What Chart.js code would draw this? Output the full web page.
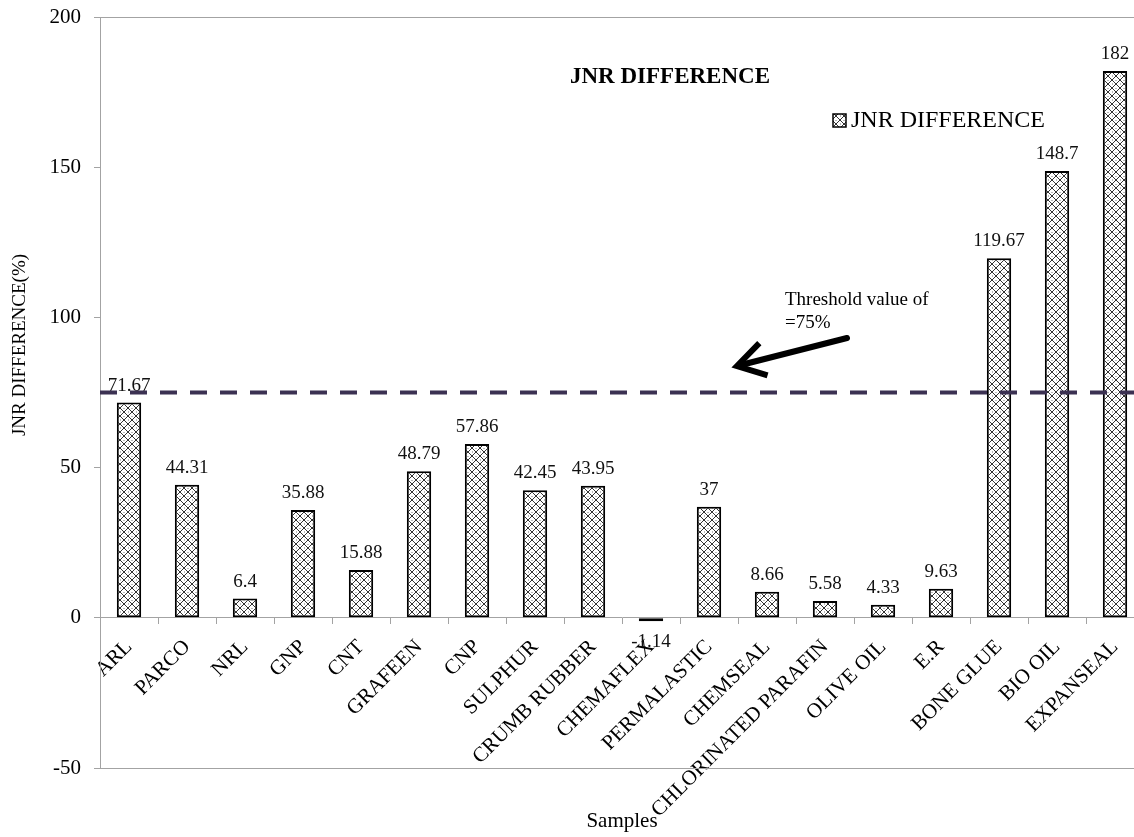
<!DOCTYPE html>
<html>
<head>
<meta charset="utf-8">
<script src="https://cdn.jsdelivr.net/npm/chart.js@4/dist/chart.umd.min.js"></script>
<style>
  html, body { margin: 0; padding: 0; background: #fff; overflow: hidden; }
  #wrap { position: relative; width: 1150px; height: 837px; }
</style>
</head>
<body>
<div id="wrap"><canvas id="c" width="1150" height="837"></canvas></div>
<script>
// Samples and their JNR difference (%)
const categories = [
  'ARL', 'PARCO', 'NRL', 'GNP', 'CNT', 'GRAFEEN', 'CNP', 'SULPHUR',
  'CRUMB RUBBER', 'CHEMAFLEX', 'PERMALASTIC', 'CHEMSEAL',
  'CHLORINATED PARAFIN', 'OLIVE OIL', 'E.R', 'BONE GLUE', 'BIO OIL', 'EXPANSEAL'
];
const jnrDifference = [
  71.67, 44.31, 6.4, 35.88, 15.88, 48.79, 57.86, 42.45,
  43.95, -1.14, 37, 8.66, 5.58, 4.33, 9.63, 119.67, 148.7, 182
];
const yAxisRange = [-50, 200];
const yTickStep = 50;
const thresholdValue = 75;
const thresholdText = ['Threshold value of', '=75%'];

const SERIF = '"Liberation Serif", "Times New Roman", serif';
const AXIS_GREY = '#a3a3a3';

const ctx = document.getElementById('c').getContext('2d');

// Diagonal cross-hatch fill used for the bars and the legend key
function makeHatch() {
  const t = document.createElement('canvas');
  t.width = 8; t.height = 8;
  const g = t.getContext('2d');
  g.fillStyle = '#ffffff';
  g.fillRect(0, 0, 8, 8);
  g.strokeStyle = '#333333';
  g.lineWidth = 1;
  g.beginPath();
  g.moveTo(-1, -1); g.lineTo(9, 9);
  g.moveTo(9, -1); g.lineTo(-1, 9);
  g.stroke();
  g.fillStyle = '#777777';
  g.fillRect(3.5, 0, 1, 1);
  g.fillRect(0, 3.5, 1, 1);
  return ctx.createPattern(t, 'repeat');
}
const hatch = makeHatch();

const decorations = {
  id: 'decorations',
  beforeDatasetsDraw(chart) {
    const { ctx, chartArea: a } = chart;
    ctx.save();
    ctx.strokeStyle = AXIS_GREY;
    ctx.lineWidth = 1;
    ctx.beginPath();
    ctx.moveTo(a.left, Math.round(a.top) + 0.5);
    ctx.lineTo(a.right, Math.round(a.top) + 0.5);
    ctx.moveTo(a.left, Math.round(a.bottom) + 0.5);
    ctx.lineTo(a.right, Math.round(a.bottom) + 0.5);
    ctx.stroke();
    ctx.restore();
  },
  afterDatasetsDraw(chart) {
    const { ctx, chartArea: a, scales } = chart;
    const meta = chart.getDatasetMeta(0);
    ctx.save();

    // value labels above (or below, for negatives) each bar
    ctx.fillStyle = '#111';
    ctx.font = '19px ' + SERIF;
    ctx.textAlign = 'center';
    ctx.textBaseline = 'alphabetic';
    meta.data.forEach((bar, i) => {
      const v = jnrDifference[i];
      const y = v >= 0 ? bar.y - 12 : bar.y + 26;
      ctx.fillText(String(v), bar.x, y);
    });

    // threshold line
    const ty = scales.y.getPixelForValue(thresholdValue);
    ctx.strokeStyle = '#3b3152';
    ctx.lineWidth = 4;
    ctx.setLineDash([17, 13]);
    ctx.beginPath();
    ctx.moveTo(a.left, ty);
    ctx.lineTo(a.right, ty);
    ctx.stroke();
    ctx.setLineDash([]);

    // pointer arrow toward the threshold line
    const tip = { x: 737, y: 366 };
    const tail = { x: 847, y: 338 };
    const ang = Math.atan2(tail.y - tip.y, tail.x - tip.x);
    ctx.strokeStyle = '#000';
    ctx.lineWidth = 6;
    ctx.lineCap = 'round';
    ctx.beginPath();
    ctx.moveTo(tail.x, tail.y);
    ctx.lineTo(tip.x + 4 * Math.cos(ang), tip.y + 4 * Math.sin(ang));
    ctx.stroke();
    ctx.lineCap = 'butt';
    ctx.lineJoin = 'miter';
    ctx.beginPath();
    ctx.moveTo(tip.x + 32 * Math.cos(ang - 0.55), tip.y + 32 * Math.sin(ang - 0.55));
    ctx.lineTo(tip.x, tip.y);
    ctx.lineTo(tip.x + 32 * Math.cos(ang + 0.55), tip.y + 32 * Math.sin(ang + 0.55));
    ctx.stroke();

    // annotation text
    ctx.fillStyle = '#000';
    ctx.font = '19px ' + SERIF;
    ctx.textAlign = 'left';
    ctx.fillText(thresholdText[0], 785, 305);
    ctx.fillText(thresholdText[1], 785, 328);

    // chart title inside the plot
    ctx.font = 'bold 23px ' + SERIF;
    ctx.textAlign = 'center';
    ctx.fillText('JNR DIFFERENCE', 670, 83);

    // legend
    ctx.fillStyle = hatch;
    ctx.fillRect(833, 114, 13, 13);
    ctx.strokeStyle = '#000';
    ctx.lineWidth = 1.5;
    ctx.strokeRect(833, 114, 13, 13);
    ctx.fillStyle = '#000';
    ctx.font = '24px ' + SERIF;
    ctx.textAlign = 'left';
    ctx.fillText(chart.data.datasets[0].label, 851, 127);

    // axis titles
    ctx.font = '21px ' + SERIF;
    ctx.textAlign = 'center';
    ctx.fillText('Samples', (a.left + a.right) / 2, 827);

    ctx.translate(20, 345);
    ctx.rotate(-Math.PI / 2);
    ctx.font = '19px ' + SERIF;
    ctx.textBaseline = 'middle';
    ctx.fillText('JNR DIFFERENCE(%)', 0, 0);

    ctx.restore();
  }
};

new Chart(ctx, {
  type: 'bar',
  data: {
    labels: categories,
    datasets: [{
      label: 'JNR DIFFERENCE',
      data: jnrDifference,
      backgroundColor: hatch,
      borderColor: '#000',
      borderWidth: 2,
      borderSkipped: false,
      barPercentage: 0.42,
      categoryPercentage: 1
    }]
  },
  options: {
    responsive: false,
    animation: false,
    layout: { padding: { top: 17, right: 6, bottom: 69, left: 0 } },
    plugins: {
      legend: { display: false },
      title: { display: false },
      tooltip: { enabled: false }
    },
    scales: {
      x: {
        position: { y: 0 },
        offset: true,
        grid: { offset: true, drawOnChartArea: false, drawTicks: true, tickLength: 6, color: AXIS_GREY },
        border: { display: true, color: AXIS_GREY, width: 1 },
        ticks: {
          autoSkip: false, minRotation: 45, maxRotation: 45, padding: 11,
          color: '#000', font: { family: SERIF, size: 21 }
        }
      },
      y: {
        min: yAxisRange[0],
        max: yAxisRange[1],
        ticks: { stepSize: yTickStep, padding: 13, color: '#000', font: { family: SERIF, size: 21 } },
        grid: { drawOnChartArea: false, drawTicks: true, tickLength: 6, color: AXIS_GREY },
        border: { display: true, color: AXIS_GREY, width: 1 },
        afterFit(scale) {
          scale.width = 100;
          scale.paddingTop = 0;
          scale.paddingBottom = 0;
        }
      }
    }
  },
  plugins: [decorations]
});
</script>
</body>
</html>
